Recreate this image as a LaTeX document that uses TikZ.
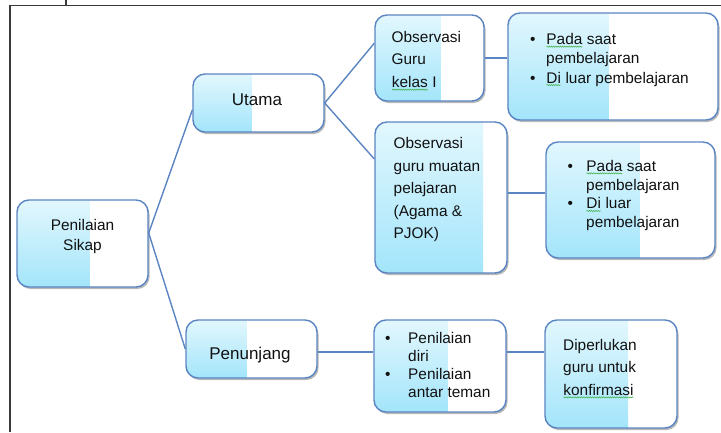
\documentclass[tikz,border=0pt]{standalone}
\usepackage{fontspec}
\setmainfont{Liberation Sans}
\usetikzlibrary{calc,shadows,decorations.pathmorphing}
\definecolor{bblue}{HTML}{5B85C2}
\definecolor{ltop}{HTML}{E2F7FD}
\definecolor{lbot}{HTML}{A3E5FB}
\definecolor{framec}{HTML}{3A3A3A}
\definecolor{wavyc}{HTML}{3CB043}
\definecolor{txtc}{HTML}{111111}
\newcommand\wv[1]{\tikz[baseline=(wvn.base)]{\node[inner sep=0pt,outer sep=0pt](wvn){#1};\draw[wavyc,line width=.5pt,decorate,decoration={snake,amplitude=.6pt,segment length=2.2pt}]([yshift=-2pt]wvn.base west)--([yshift=-2pt]wvn.base east);}}
\newcommand\bl[2]{\makebox[#1pt][l]{•}#2}
\begin{document}
\begin{tikzpicture}[x=1pt,y=-1pt,
  gbox/.style={draw=bblue, line width=1.4pt, rounded corners=12pt, fill=white, inner sep=0pt,
    drop shadow={shadow xshift=1.5pt, shadow yshift=-2pt, fill=black, opacity=.28},
    path picture={\shade[sharp corners, top color=ltop, bottom color=lbot]
      (path picture bounding box.south west) rectangle
      ($(path picture bounding box.north west)!#1!(path picture bounding box.north east)$);}},
  txt/.style={inner sep=0pt, font=\fontsize{15.4}{#1}\selectfont, align=left, anchor=north west, text=txtc},
  big/.style={inner sep=0pt, font=\fontsize{17}{20}\selectfont, anchor=base, text=txtc},
  conn/.style={draw=bblue, line width=1.4pt},
  framel/.style={draw=framec, line width=1.3pt}]
\useasboundingbox (0,0) rectangle (721,432);
% frame
\draw[framel] (10,432) -- (10,5.5) -- (721,5.5);
\draw[framel] (66,0) -- (66,5.5);
% boxes
\node[gbox=.557, minimum width=131pt, minimum height=87pt] (sikap) at (82.5,243.5) {};
\node[gbox=.45, minimum width=131pt, minimum height=58pt] (utama) at (258.5,103) {};
\node[gbox=.46, minimum width=131pt, minimum height=58pt] (penunjang) at (251.5,349) {};
\node[gbox=.60, minimum width=109pt, minimum height=86pt] (obs1) at (429.5,58) {};
\node[gbox=.48, minimum width=210pt, minimum height=107pt] (tr) at (613,66.5) {};
\node[gbox=.82, minimum width=132pt, minimum height=151pt] (obs2) at (441,197.5) {};
\node[gbox=.556, minimum width=169pt, minimum height=116pt] (mr) at (630.5,200) {};
\node[gbox=.56, minimum width=132pt, minimum height=92pt] (diri) at (440,366) {};
\node[gbox=.63, minimum width=132pt, minimum height=108pt] (konf) at (611,374) {};
% connectors
\draw[conn] (sikap.9) -- (utama.186);
\draw[conn] (sikap.9) -- (penunjang.west);
\draw[conn] (utama.east) -- (obs1.165);
\draw[conn] (utama.east) -- (obs2.150);
\draw[conn] (obs1.east) -- (obs1.east -| tr.west);
\coordinate (om) at ($(obs2.east)+(0,-4.5)$);
\draw[conn] (om) -- (om -| mr.west);
\coordinate (pd) at ($(penunjang.east)+(0,3)$);
\draw[conn] (pd) -- (pd -| diri.west);
\coordinate (dk) at ($(diri.east)+(0,-14)$);
\draw[conn] (dk) -- (dk -| konf.west);
% texts
\node[txt=20, align=center, anchor=north] (sikapt) at (82.5,219.5) {Penilaian\\Sikap};
\node[big] (utamat) at (257,105) {Utama};
\node[big] (penunjangt) at (250,359.3) {Penunjang};
\node[txt=22.8] (obs1t) at (391.5,30.7) {Observasi\\Guru\\\wv{kelas} I};
\node[txt=19.2] (trt) at (530,33.3) {\bl{16}{\wv{Pada} saat}\\\hspace*{16pt}pembelajaran\\\bl{16}{\wv{Di} luar pembelajaran}};
\node[txt=22.5] (obs2t) at (393.5,137.3) {Observasi\\guru muatan\\pelajaran\\(Agama \&\\PJOK)};
\node[txt=18.8] (mrt) at (567.5,160) {\bl{18.5}{\wv{Pada} saat}\\\hspace*{18.5pt}pembelajaran\\\bl{18.5}{\wv{Di} luar}\\\hspace*{18.5pt}pembelajaran};
\node[txt=18] (dirit) at (385,331.7) {\bl{23}{Penilaian}\\\hspace*{23pt}diri\\\bl{23}{Penilaian}\\\hspace*{23pt}antar teman};
\node[txt=22.5] (konft) at (563,339) {Diperlukan\\guru untuk\\\wv{konfirmasi}};
\end{tikzpicture}
\end{document}
